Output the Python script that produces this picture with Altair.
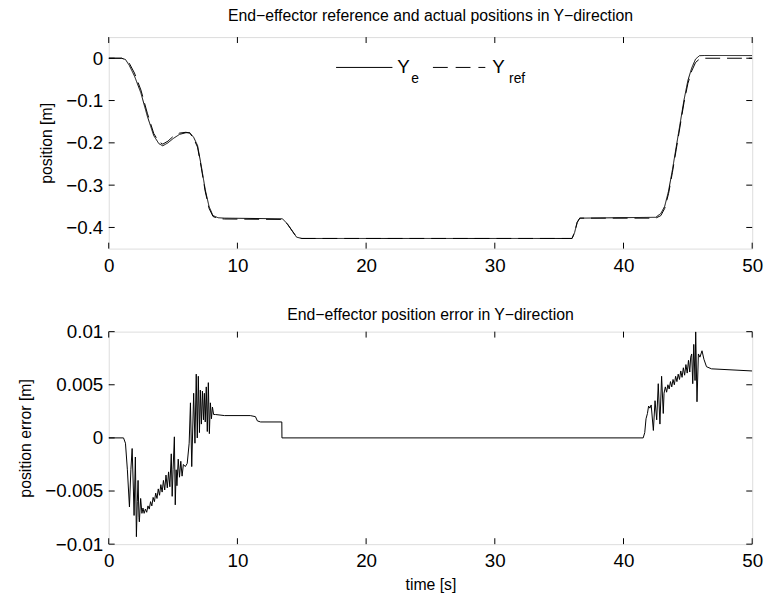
import altair as alt
import pandas as pd

# ---------------- data ----------------
t_pos = [0, 1.0, 1.3, 1.6, 2.0, 2.5, 3.0, 3.5, 3.9, 4.2, 4.6, 5.0, 5.5, 6.0, 6.3, 6.6,
         6.9, 7.2, 7.5, 7.8, 8.1, 8.5, 9.0, 13.5, 13.9, 14.3, 14.6, 15.0, 36.0, 36.2,
         36.4, 36.6, 42.5, 42.9, 43.2, 43.5, 43.8, 44.1, 44.4, 44.7, 45.0, 45.3, 45.6,
         45.9, 46.3, 50.0]
y_ref = [0, 0, -0.003, -0.012, -0.035, -0.075, -0.13, -0.178, -0.198, -0.203, -0.196,
         -0.185, -0.177, -0.175, -0.177, -0.19, -0.21, -0.26, -0.315, -0.355, -0.374,
         -0.379, -0.38, -0.381, -0.393, -0.41, -0.423, -0.426, -0.426, -0.412, -0.388,
         -0.378, -0.378, -0.372, -0.355, -0.32, -0.27, -0.215, -0.16, -0.105, -0.06,
         -0.03, -0.01, -0.002, 0.0, 0.0]
y_e = [0, 0, -0.003, -0.017, -0.042, -0.082, -0.137, -0.183, -0.202, -0.207, -0.2,
       -0.19, -0.18, -0.176, -0.176, -0.187, -0.206, -0.256, -0.311, -0.351, -0.372,
       -0.377, -0.378, -0.3795, -0.392, -0.41, -0.423, -0.426, -0.426, -0.412, -0.388,
       -0.378, -0.376, -0.367, -0.35, -0.314, -0.264, -0.209, -0.154, -0.099, -0.053,
       -0.023, -0.002, 0.006, 0.0065, 0.0063]

t_err = [0, 1.15, 1.3, 1.45, 1.61, 1.72, 1.82, 1.92, 1.97, 2.07, 2.15, 2.22, 2.28, 2.35,
         2.38, 2.48, 2.58, 2.66, 2.75,
         2.85, 2.95, 3.05, 3.15, 3.25, 3.35, 3.45, 3.55, 3.65, 3.75, 3.85, 3.95, 4.05,
         4.15, 4.25, 4.35, 4.45, 4.55, 4.65, 4.75,
         4.86, 4.93, 5.0, 5.1, 5.17, 5.24, 5.3, 5.4, 5.5, 5.6, 5.7, 5.8, 5.95, 6.1, 6.25,
         6.35, 6.45, 6.6, 6.7, 6.8, 6.88, 6.96, 7.05, 7.12, 7.2, 7.28, 7.36, 7.43, 7.5,
         7.58, 7.66, 7.74, 7.82, 7.9, 7.98, 8.06, 8.15, 8.3, 9.0, 11.0, 11.4, 11.55, 11.8,
         13.45, 13.46, 41.53, 41.65, 41.75, 41.86, 41.95, 42.05, 42.15, 42.32, 42.45,
         42.58, 42.7, 42.83, 42.96, 43.09,
         43.15, 43.25, 43.35, 43.45, 43.55, 43.65, 43.75, 43.85, 43.95, 44.05, 44.15,
         44.25, 44.35, 44.45, 44.55, 44.65, 44.75, 44.85, 44.95, 45.05, 45.15, 45.22,
         45.3, 45.38, 45.46, 45.56, 45.61, 45.71, 45.82, 45.94, 46.1, 46.25, 46.45,
         46.84, 50.0]
e_err = [0, 0, -0.0005, -0.003, -0.0065, -0.003, -0.001, -0.005, -0.0073, -0.0018,
         -0.0093, -0.006, -0.004, -0.0075, -0.0079, -0.0057, -0.0071, -0.0066, -0.0071,
         -0.0067, -0.0070, -0.0064, -0.0067, -0.0060, -0.0064, -0.0056, -0.0060, -0.0052,
         -0.0057, -0.0048, -0.0054, -0.0044, -0.0051, -0.0040, -0.0049, -0.0035, -0.0047,
         -0.0032, -0.0046,
         -0.0015, -0.0055, -0.003, 0.0001, -0.0063, -0.003, -0.0045, -0.002, -0.0037,
         -0.0022, -0.0036, -0.0025, -0.0027, -0.0024, -0.0005, 0.0033, -0.0027, 0.0042,
         -0.0005, 0.006, 0.0, 0.0058, 0.0005, 0.0045, 0.0013, 0.0044, 0.0017, 0.0042,
         0.0015, 0.0048, 0.0006, 0.0052, 0.0004, 0.0033, 0.0018, 0.0029, 0.0022, 0.0022,
         0.0021, 0.0021, 0.0020, 0.0016, 0.0015, 0.0015, 0.0, 0.0, 0.0005, 0.0018,
         0.0023, 0.0030, 0.0028, 0.0031, 0.0007, 0.0035, 0.0017, 0.0051, 0.0013, 0.0058,
         0.0023,
         0.0042, 0.0048, 0.0043, 0.0050, 0.0046, 0.0053, 0.0048, 0.0055, 0.0050, 0.0058,
         0.0053, 0.0060, 0.0055, 0.0063, 0.0057, 0.0066, 0.0059, 0.0069, 0.0061, 0.0073,
         0.0062, 0.0076,
         0.0079, 0.0051, 0.0088, 0.0054, 0.0100, 0.0034, 0.0079, 0.0076, 0.0082, 0.0074,
         0.0067, 0.0065, 0.0063]

x_ticks = [0, 10, 20, 30, 40, 50]
y_ticks_top = [-0.4, -0.3, -0.2, -0.1, 0]
y_ticks_bot = [-0.01, -0.005, 0, 0.005, 0.01]

W, H1, H2 = 651, 214, 215
FONT = "Liberation Sans"
TICK = 6
LBL = 19
TTL = 16

pos_df = pd.DataFrame({"t": t_pos * 2,
                       "y": y_e + y_ref,
                       "series": ["Y_e"] * len(t_pos) + ["Y_ref"] * len(t_pos)})
err_df = pd.DataFrame({"t": t_err, "e": e_err})

xscale = alt.Scale(domain=[0, 50], nice=False, zero=False)


def x_axis(title=None):
    kw = dict(values=x_ticks, ticks=False, domain=False, grid=False, labelFontSize=LBL,
              labelPadding=8, labelFont=FONT, labelColor="black", format="~g",
              labelFlush=False, labelOverlap=False,
              titleFont=FONT, titleFontSize=TTL, titleFontWeight="normal",
              titleColor="black", titlePadding=6)
    return alt.Axis(title=title, **kw)


def y_axis(values, title):
    return alt.Axis(values=values, ticks=False, domain=False, grid=False,
                    labelFontSize=LBL, labelPadding=6, labelFont=FONT, labelColor="black",
                    labelFlush=False, labelOverlap=False,
                    format="~g", title=title, titleFont=FONT, titleFontSize=TTL,
                    titleFontWeight="normal", titleColor="black", titlePadding=11)


def tick_layers(yvals, yscale, h):
    xt = pd.DataFrame({"v": x_ticks})
    yt = pd.DataFrame({"v": yvals})
    xs = alt.X("v:Q", scale=xscale)
    ys = alt.Y("v:Q", scale=yscale)
    return [
        alt.Chart(xt).mark_rule(color="black", strokeWidth=1).encode(
            x=xs, y=alt.value(0), y2=alt.value(TICK)),
        alt.Chart(xt).mark_rule(color="black", strokeWidth=1).encode(
            x=xs, y=alt.value(h), y2=alt.value(h - TICK)),
        alt.Chart(yt).mark_rule(color="black", strokeWidth=1).encode(
            y=ys, x=alt.value(0), x2=alt.value(TICK)),
        alt.Chart(yt).mark_rule(color="black", strokeWidth=1).encode(
            y=ys, x=alt.value(W), x2=alt.value(W - TICK)),
    ]


# ---------------- top panel ----------------
yscale_top = alt.Scale(domain=[-0.45, 0.05], nice=False, zero=False)

lines_top = alt.Chart(pos_df).mark_line(color="black", strokeWidth=1, clip=True).encode(
    x=alt.X("t:Q", scale=xscale, axis=x_axis()),
    y=alt.Y("y:Q", scale=yscale_top, axis=y_axis(y_ticks_top, "position [m]")),
    detail="series:N",
    strokeDash=alt.StrokeDash("series:N", scale=alt.Scale(domain=["Y_e", "Y_ref"],
                                                          range=[[1, 0], [15, 7]]),
                              legend=None),
)

one = alt.Data(values=[{"a": 1}])
leg_solid = alt.Chart(one).mark_rule(color="black", strokeWidth=1).encode(
    x=alt.value(230), x2=alt.value(287), y=alt.value(30.7))
leg_dash = alt.Chart(one).mark_rule(color="black", strokeWidth=1, strokeDash=[15, 8]).encode(
    x=alt.value(328), x2=alt.value(381), y=alt.value(30.7))


def txt(s, x, y, size):
    return alt.Chart(one).mark_text(font=FONT, fontSize=size, align="left",
                                    baseline="alphabetic", color="black").encode(
        x=alt.value(x), y=alt.value(y), text=alt.value(s))


legend_layers = [leg_solid, leg_dash,
                 txt("Y", 292, 36.7, 19), txt("e", 306, 46.7, 14),
                 txt("Y", 388, 36.7, 19), txt("ref", 405, 46.7, 14)]

top = alt.layer(lines_top, *tick_layers(y_ticks_top, yscale_top, H1), *legend_layers).properties(
    width=W, height=H1,
    title=alt.TitleParams("End\u2212effector reference and actual positions in Y\u2212direction",
                          font=FONT, fontSize=TTL, fontWeight="normal", color="black",
                          offset=13, anchor="middle"))

# ---------------- bottom panel ----------------
yscale_bot = alt.Scale(domain=[-0.01, 0.01], nice=False, zero=False)

line_bot = alt.Chart(err_df).mark_line(color="black", strokeWidth=1, clip=True).encode(
    x=alt.X("t:Q", scale=xscale, axis=x_axis("time [s]")),
    y=alt.Y("e:Q", scale=yscale_bot, axis=y_axis(y_ticks_bot, "position error [m]")),
)

bottom = alt.layer(line_bot, *tick_layers(y_ticks_bot, yscale_bot, H2)).properties(
    width=W, height=H2,
    title=alt.TitleParams("End\u2212effector position error in Y\u2212direction",
                          font=FONT, fontSize=TTL, fontWeight="normal", color="black",
                          offset=0, anchor="middle"))

chart = alt.vconcat(top, bottom, spacing=84, bounds="flush").properties(
    padding={"left": 17, "top": 4, "right": 5, "bottom": 5},
).configure_view(stroke="black", strokeWidth=1).configure(background="white")

chart.save("out.html", embed_options={"renderer": "svg", "actions": False})
